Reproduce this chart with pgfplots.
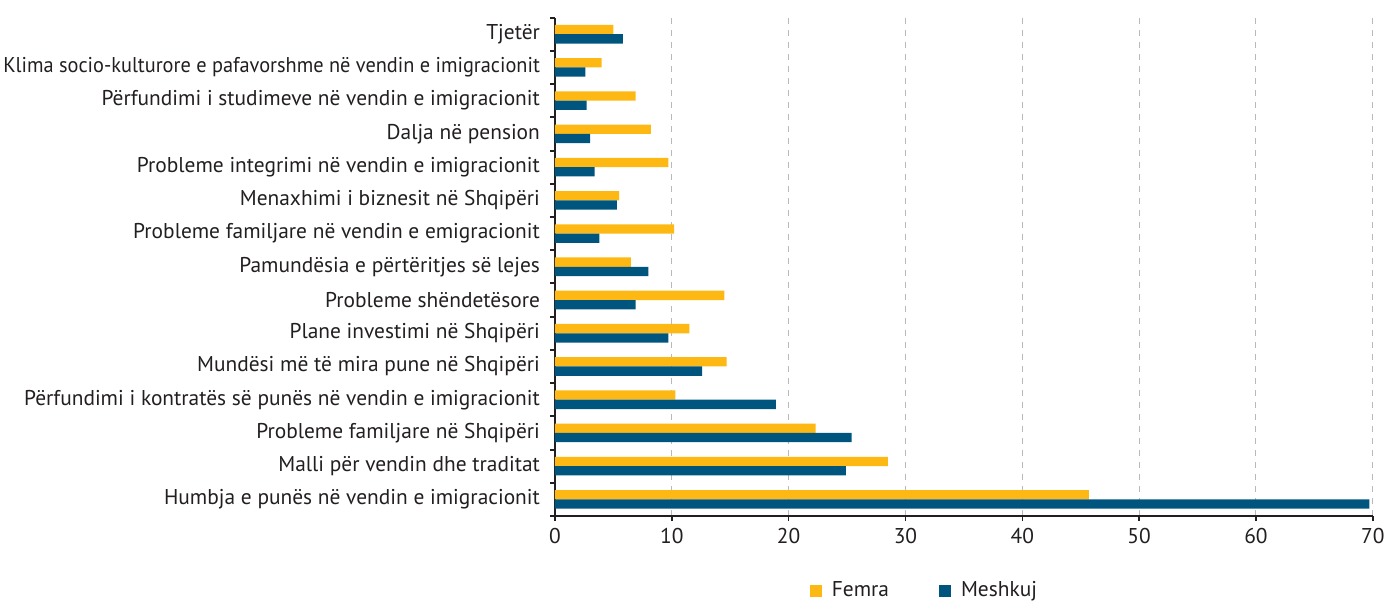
\documentclass[border=0pt]{standalone}
\usepackage{fontspec}
\setmainfont{PT Sans}
\usepackage{pgfplots}
\pgfplotsset{compat=1.18}
\definecolor{femra}{HTML}{FDB813}
\definecolor{meshkuj}{HTML}{00557F}
\definecolor{txt}{HTML}{231F20}

\begin{document}
\begin{tikzpicture}[x=1pt,y=1pt]
\begin{axis}[
    at={(0,0)}, anchor=south west,
    width=408.9pt, height=249.2pt,
    scale only axis,
    xbar,
    xmin=0, xmax=70,
    ymin=-0.5, ymax=14.5,
    xtick={0,10,...,70},
    ytick={0,...,14},
    minor ytick={-0.5,0.5,...,14.5},
    yticklabels={
        Humbja e punës në vendin e imigracionit,
        Malli për vendin dhe traditat,
        Probleme familjare  në Shqipëri,
        Përfundimi i kontratës së punës në vendin e imigracionit,
        Mundësi më të mira pune në Shqipëri,
        Plane investimi në Shqipëri,
        Probleme shëndetësore,
        Pamundësia e përtëritjes së lejes,
        Probleme familjare  në vendin e emigracionit,
        Menaxhimi i biznesit në Shqipëri,
        Probleme integrimi në vendin e imigracionit,
        Dalja në pension,
        Përfundimi i studimeve në vendin e imigracionit,
        \scalebox{0.95}[1]{Klima socio-kulturore e pafavorshme në vendin e imigracionit},
        Tjetër},
    axis x line*=bottom,
    axis y line*=left,
    axis line style={txt, line width=1pt, -},
    tick align=outside,
    major tick length=2.5pt,
    minor tick length=2.5pt,
    ytick style={draw=none},
    minor y tick style={draw=txt, line width=1pt},
    xtick style={txt, line width=0.8pt},
    xmajorgrids,
    grid style={gray!55, dashed, line width=0.5pt},
    ticklabel style={font=\fontsize{10.7}{12}\selectfont, text=txt},
    yticklabel style={xshift=-1.5pt},
    /pgf/number format/assume math mode=true,
    bar width=0.28,
    legend columns=2,
    legend style={at={(0.453,-0.15)}, anchor=center, draw=none,
        font=\fontsize{10.7}{12}\selectfont, text=txt,
        /tikz/every odd column/.append style={column sep=3pt},
        /tikz/every even column/.append style={column sep=23pt}},
    legend image code/.code={\fill[#1] (0pt,-3pt) rectangle (6pt,3pt);},
]
\addplot[draw=none, fill=femra, bar shift=0.14] coordinates {
    (45.7,0) (28.5,1) (22.3,2) (10.3,3) (14.7,4) (11.5,5) (14.5,6) (6.5,7)
    (10.2,8) (5.5,9) (9.7,10) (8.2,11) (6.9,12) (4.0,13) (5.0,14)
};
\addlegendentry{Femra}
\addplot[draw=none, fill=meshkuj, bar shift=-0.14] coordinates {
    (69.7,0) (24.9,1) (25.4,2) (18.9,3) (12.6,4) (9.7,5) (6.9,6) (8.0,7)
    (3.8,8) (5.3,9) (3.4,10) (3.0,11) (2.7,12) (2.6,13) (5.8,14)
};
\addlegendentry{Meshkuj}
\end{axis}
\pgfresetboundingbox
\path (-277.5pt,-42.5pt) rectangle (417pt,258pt);
\end{tikzpicture}
\end{document}
